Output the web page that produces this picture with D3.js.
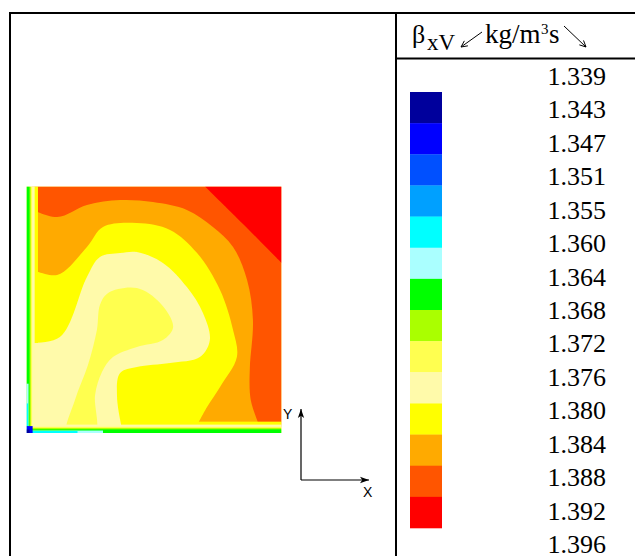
<!DOCTYPE html>
<html>
<head>
<meta charset="utf-8">
<script src="https://cdn.jsdelivr.net/npm/d3@7"></script>
<style>
  body { margin: 0; background: #fff; }
  svg { display: block; }
</style>
</head>
<body>
<div id="chart"></div>
<script>
// legend tick labels (kg/m^3 s) and the colour of each band between them
const legendTicks = ["1.339", "1.343", "1.347", "1.351", "1.355", "1.360", "1.364", "1.368",
  "1.372", "1.376", "1.380", "1.384", "1.388", "1.392", "1.396"];
const bandColors = ["#00009c", "#0000ff", "#0050ff", "#00a0ff", "#00ffff", "#aaffff", "#00ff00",
  "#aaff00", "#ffff50", "#fffaaa", "#ffff00", "#ffaa00", "#ff5500", "#ff0000"];

// iso-lines, [x, y] in % of cavity width / height
const iso1376 = [[32.0, 56.8], [43.3, 58.8], [52.4, 52.7], [57.5, 43.0], [53.5, 37.7], [43.3, 34.9],
  [33.9, 30.8], [29.6, 24.7], [26.9, 15.4], [26.9, 0], [15.9, 0], [19.0, 13.4], [24.1, 27.6],
  [27.6, 41.8], [28.8, 51.9]];
const iso1380 = [[0, 36.5], [13.1, 38.9], [23.7, 63.3], [28.8, 71.4], [36.7, 73.0], [43.3, 73.4],
  [53.5, 69.0], [62.9, 59.2], [69.2, 48.7], [71.9, 37.7], [68.0, 30.8], [56.3, 28.4], [43.3, 26.8],
  [36.7, 24.3], [35.5, 14.6], [37.8, 0]];
const iso1384 = [[0, 67.3], [12.0, 64.1], [23.7, 75.5], [30.0, 83.6], [43.3, 85.2], [56.3, 82.4],
  [66.9, 73.0], [75.9, 58.0], [81.0, 41.8], [82.5, 30.8], [75.9, 18.7], [70.8, 10.5], [65.3, 0]];
const iso1388 = [[0, 91.7], [12.0, 87.6], [23.7, 92.5], [36.7, 94.5], [49.6, 93.7], [62.9, 90.5],
  [73.1, 83.6], [81.0, 75.5], [86.5, 62.1], [88.8, 45.8], [87.6, 26.8], [87.6, 16.2], [88.4, 11.4],
  [92.4, 0]];
const iso1392 = [[70.0, 100], [84.9, 84.8], [100, 69.0]];

// thin layers along the cold walls: [band, x0, x1, y0, y1]
const wallLayers = [
  [10, 0, 4.5, 36.5, 100], [10, 37.8, 100, 0, 4.6],
  [9, 0, 3.2, 0, 100], [9, 0, 100, 0, 3.4],
  [8, 0, 2.2, 0, 100], [8, 0, 100, 0, 2.5],
  [7, 0, 1.7, 0, 100], [7, 0, 100, 0, 2.0],
  [6, 0, 1.2, 0, 100], [6, 0, 100, 0, 1.5],
  [5, 0, 0.8, 0, 20], [5, 0, 30, 0, 1.0],
  [4, 0, 0.6, 0, 12], [4, 0, 20, 0, 0.8],
  [1, 0, 2.4, 0, 2.8], [0, 0, 1.2, 0, 1.4]
];

const W = 635, H = 556;
const PLOT = { left: 26.5, right: 281.5, top: 186.5, bottom: 433 };

const svg = d3.select("#chart").append("svg").attr("width", W).attr("height", H);

const x = d3.scaleLinear().domain([0, 100]).range([PLOT.left, PLOT.right]);
const y = d3.scaleLinear().domain([0, 100]).range([PLOT.bottom, PLOT.top]);

svg.append("defs").append("clipPath").attr("id", "cav")
  .append("rect")
  .attr("x", x(0)).attr("y", y(100))
  .attr("width", x(100) - x(0)).attr("height", y(0) - y(100));

const blur = svg.select("defs").append("filter").attr("id", "soft");
blur.append("feGaussianBlur").attr("stdDeviation", 0.6);

const field = svg.append("g").attr("clip-path", "url(#cav)")
  .append("g").attr("filter", "url(#soft)");

const smooth = d3.line().x((d) => x(d[0])).y((d) => y(d[1])).curve(d3.curveCatmullRom.alpha(0.5));
const corner = (pts) => pts.map((d) => `L${x(d[0])},${y(d[1])}`).join("");
// region above an iso-line = the line plus the top-right corners of the cavity
const upper = (iso) => smooth(iso) + corner([[100, 0], [100, 100], [0, 100]]) + "Z";

field.append("rect")
  .attr("x", x(0) - 2).attr("y", y(100) - 2)
  .attr("width", x(100) - x(0) + 4).attr("height", y(0) - y(100) + 4)
  .attr("fill", bandColors[9]);

field.append("path")
  .attr("d", d3.line().x((d) => x(d[0])).y((d) => y(d[1])).curve(d3.curveCatmullRomClosed)(iso1376))
  .attr("fill", bandColors[8]);

[[iso1380, 10], [iso1384, 11], [iso1388, 12]].forEach(([iso, band]) => {
  field.append("path").attr("d", upper(iso)).attr("fill", bandColors[band]);
});

field.append("path")
  .attr("d", smooth(iso1392) + corner([[100, 100]]) + "Z")
  .attr("fill", bandColors[13]);

field.selectAll("rect.wall").data(wallLayers).join("rect")
  .attr("class", "wall")
  .attr("x", (d) => x(d[1]))
  .attr("y", (d) => y(d[4]))
  .attr("width", (d) => x(d[2]) - x(d[1]))
  .attr("height", (d) => y(d[3]) - y(d[4]))
  .attr("fill", (d) => bandColors[d[0]]);

// coordinate glyph
const arrowDefs = svg.select("defs").append("marker")
  .attr("id", "tip").attr("viewBox", "0 0 10 10")
  .attr("refX", 10).attr("refY", 5)
  .attr("markerWidth", 9).attr("markerHeight", 9)
  .attr("markerUnits", "userSpaceOnUse")
  .attr("orient", "auto");
arrowDefs.append("path").attr("d", "M0,1.5L10,5L0,8.5L2.5,5Z").attr("fill", "#000");

const ox = 301, oy = 480;
svg.append("path").attr("d", `M${ox},${oy}V409`).attr("stroke", "#000").attr("stroke-width", 1.2)
  .attr("marker-end", "url(#tip)");
svg.append("path").attr("d", `M${ox},${oy}H369`).attr("stroke", "#000").attr("stroke-width", 1.2)
  .attr("marker-end", "url(#tip)");
svg.append("text").attr("x", 283).attr("y", 419)
  .attr("font-family", "Liberation Sans, Arial, sans-serif").attr("font-size", 14).text("Y");
svg.append("text").attr("x", 363).attr("y", 497)
  .attr("font-family", "Liberation Sans, Arial, sans-serif").attr("font-size", 14).text("X");

// table frame
const frame = svg.append("g").attr("stroke", "#000").attr("stroke-width", 2);
frame.append("line").attr("x1", 9).attr("x2", W).attr("y1", 13).attr("y2", 13);
frame.append("line").attr("x1", 10).attr("x2", 10).attr("y1", 12).attr("y2", H);
frame.append("line").attr("x1", 396).attr("x2", 396).attr("y1", 12).attr("y2", H);
frame.append("line").attr("x1", 396).attr("x2", W).attr("y1", 58.5).attr("y2", 58.5);

// legend header
const serif = "'Liberation Serif', 'Times New Roman', serif";
const head = svg.append("g").attr("font-family", serif).attr("fill", "#000");
head.append("text").attr("x", 412).attr("y", 43).attr("font-size", 26).text("β");
head.append("text").attr("x", 427).attr("y", 50).attr("font-size", 23).text("xV");
head.append("text").attr("x", 485).attr("y", 43).attr("font-size", 27).text("kg/m");
head.append("text").attr("x", 541).attr("y", 34).attr("font-size", 15).text("3");
head.append("text").attr("x", 549).attr("y", 43).attr("font-size", 27).text("s");

const slash = (x1, y1, x2, y2) => {
  const a = Math.atan2(y2 - y1, x2 - x1), h = 7, s = 0.45;
  return `M${x1},${y1}L${x2},${y2}` +
    `M${x2 - h * Math.cos(a - s)},${y2 - h * Math.sin(a - s)}L${x2},${y2}` +
    `L${x2 - h * Math.cos(a + s)},${y2 - h * Math.sin(a + s)}`;
};
head.append("path").attr("d", slash(482, 32, 461, 47)).attr("stroke", "#000").attr("fill", "none").attr("stroke-width", 1);
head.append("path").attr("d", slash(564, 26, 586, 47)).attr("stroke", "#000").attr("fill", "none").attr("stroke-width", 1);

// legend colour bar
const bandY = d3.scaleBand().domain(d3.range(bandColors.length)).range([92, 528]);
svg.append("g").selectAll("rect").data(bandColors).join("rect")
  .attr("x", 410).attr("width", 32)
  .attr("y", (d, i) => bandY(i)).attr("height", bandY.bandwidth() + 0.3)
  .attr("fill", (d) => d);

const tickY = d3.scalePoint().domain(legendTicks).range([85, 553]);
svg.append("g").attr("font-family", serif).attr("font-size", 26).attr("text-anchor", "end")
  .selectAll("text").data(legendTicks).join("text")
  .attr("x", 606).attr("y", (d) => tickY(d))
  .text((d) => d);
</script>
</body>
</html>
